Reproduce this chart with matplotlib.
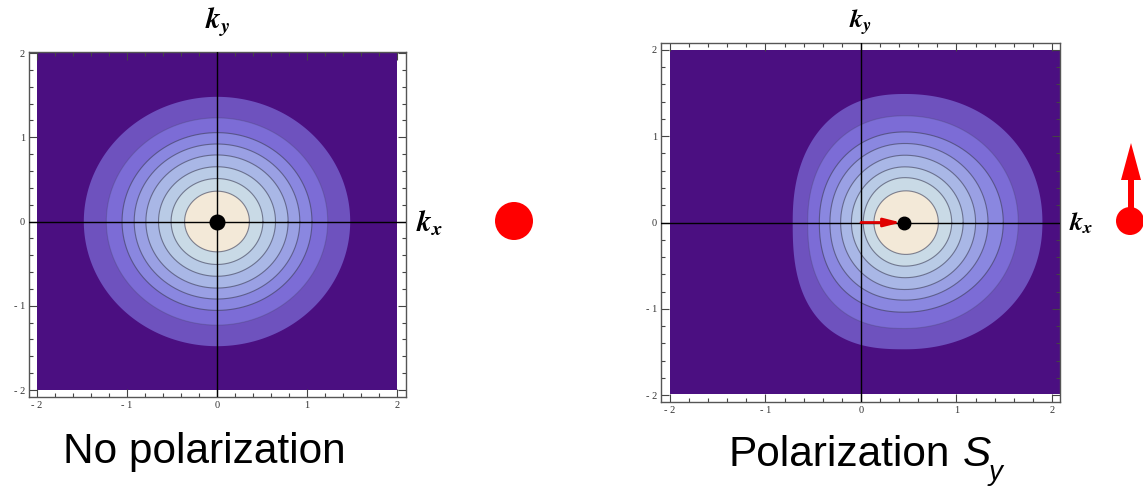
import numpy as np
import matplotlib.pyplot as plt
from matplotlib.patches import Circle, FancyArrow
from matplotlib.ticker import MultipleLocator

plt.rcParams['mathtext.fontset'] = 'custom'
plt.rcParams['mathtext.it'] = 'STIXGeneral:italic:bold'
plt.rcParams['mathtext.rm'] = 'STIXGeneral:bold'

# contour band colours, outside -> centre
band_colors = ['#4b0f81', '#6e52be', '#7c6cd6', '#8a87e0', '#9aa0e4',
               '#a9b7e6', '#b9cbe6', '#c9dae6', '#f3e9d8']

# no polarization: concentric circles (radii of the contour lines)
radii = [1.48, 1.23, 1.055, 0.92, 0.79, 0.65, 0.51, 0.36]

# S_y polarization: shifted, lopsided contours
shift_x = [0.46, 0.46, 0.46, 0.46, 0.46, 0.46, 0.46, 0.47]
left_x = [-0.715, -0.558, -0.436, -0.325, -0.213, -0.10, 0.024, 0.136]
right_x = [1.90, 1.647, 1.49, 1.33, 1.20, 1.07, 0.95, 0.81]
top_y = [1.49, 1.237, 1.05, 0.916, 0.78, 0.645, 0.52, 0.367]
bottom_y = [-1.47, -1.229, -1.04, -0.90, -0.777, -0.64, -0.506, -0.37]
upper_left_power = [2.3, 2.2, 2.1, 2.05, 2.0, 2.0, 2.0, 2.0]
lower_left_power = [2.6, 2.4, 2.25, 2.15, 2.05, 2.0, 2.0, 2.0]
right_power = [2.1, 2.05, 2.0, 2.0, 2.0, 2.0, 2.0, 2.0]

peak_left = 0.0
peak_right = 0.45

tick_vals = [-2, -1, 0, 1, 2]
tick_text = ['- 2', '- 1', '0', '1', '2']


def boundary(xc, a_l, a_r, y_t, y_b, p_ul=2.0, p_ll=2.0, p_r=2.0, n=800):
    t = np.linspace(0, 2 * np.pi, n)
    c, s = np.cos(t), np.sin(t)
    a = np.where(c < 0, a_l, a_r)
    p = np.where(c < 0, np.where(s < 0, p_ll, p_ul), p_r)
    b = np.where(s < 0, abs(y_b), y_t)
    x = xc + a * np.sign(c) * np.abs(c) ** (2 / p)
    y = b * np.sign(s) * np.abs(s) ** (2 / p)
    return x, y


def setup_frame(ax, xlim, ylim):
    ax.set_xlim(*xlim)
    ax.set_ylim(*ylim)
    ax.set_xticks(tick_vals)
    ax.set_yticks(tick_vals)
    ax.set_xticklabels(tick_text, family='Liberation Serif', fontsize=7.5, color='#333333')
    ax.set_yticklabels(tick_text, family='Liberation Serif', fontsize=7.5, color='#333333')
    ax.xaxis.set_minor_locator(MultipleLocator(0.2))
    ax.yaxis.set_minor_locator(MultipleLocator(0.2))
    ax.tick_params(which='both', direction='in', top=True, right=True,
                   color='#444444', width=0.8, pad=3)
    ax.tick_params(which='major', length=6)
    ax.tick_params(which='minor', length=3)
    for sp in ax.spines.values():
        sp.set_color('#555555')
        sp.set_linewidth(1.0)
    ax.axhline(0, color='black', lw=1.0, zorder=5)
    ax.axvline(0, color='black', lw=1.0, zorder=5)


fig = plt.figure(figsize=(11.43, 4.87), dpi=100)

# left panel
ax1 = fig.add_axes([29 / 1143, 1 - 397 / 487, 377 / 1143, 345 / 487])
ax1.fill([-2, 2, 2, -2], [-2, -2, 2, 2], color=band_colors[0], lw=0)
for i, r in enumerate(radii):
    x, y = boundary(0.0, r, r, r, -r)
    ax1.fill(x, y, color=band_colors[i + 1], lw=0)
    if i > 0:
        ax1.plot(x, y, color='#3c3c55', lw=0.8, alpha=0.25 if i == 1 else 0.6)
setup_frame(ax1, (-2.089, 2.1), (-2.083, 2.012))
ax1.plot(peak_left, 0, 'o', color='black', ms=10.5, zorder=6)

# right panel
ax2 = fig.add_axes([661 / 1143, 1 - 402 / 487, 399 / 1143, 359 / 487])
ax2.fill([-2, 2.1, 2.1, -2], [-1.99, -1.99, 2, 2], color=band_colors[0], lw=0)
for i in range(len(left_x)):
    xc = shift_x[i]
    x, y = boundary(xc, xc - left_x[i], right_x[i] - xc, top_y[i], bottom_y[i],
                    upper_left_power[i], lower_left_power[i], right_power[i])
    ax2.fill(x, y, color=band_colors[i + 1], lw=0)
    if i > 0:
        ax2.plot(x, y, color='#3c3c55', lw=0.8, alpha=0.25 if i == 1 else 0.6)
setup_frame(ax2, (-2.094, 2.084), (-2.081, 2.081))
ax2.annotate('', xy=(peak_right - 0.03, 0), xytext=(0, 0),
             arrowprops=dict(arrowstyle='-|>,head_length=1.0,head_width=0.25',
                             color='#e00000', lw=2.0, shrinkA=0, shrinkB=0),
             zorder=6)
ax2.plot(peak_right, 0, 'o', color='black', ms=9, zorder=7)

# overlay in pixel units for labels and spin symbols
ov = fig.add_axes([0, 0, 1, 1], zorder=10)
ov.set_xlim(0, 1143)
ov.set_ylim(487, 0)
ov.set_axis_off()
ov.patch.set_alpha(0)

ov.text(218, 21, r'$k_y$', fontsize=21, ha='center', va='center')
ov.text(416, 223, r'$k_x$', fontsize=21, ha='left', va='center')
ov.text(861, 23, r'$k_y$', fontsize=19, ha='center', va='center')
ov.text(1069, 223, r'$k_x$', fontsize=19, ha='left', va='center')

ov.add_patch(Circle((514, 221), 19, color='#ff0000', lw=0))
ov.add_patch(Circle((1130, 221), 14, color='#ff0000', lw=0))
ov.add_patch(FancyArrow(1131, 215, 0, -72, width=6, head_width=20, head_length=37,
                        length_includes_head=True, color='#ff0000', lw=0))

ov.text(204, 463, 'No polarization', family='Liberation Sans', fontsize=30.5,
        ha='center', va='baseline')
ov.text(728, 466, 'Polarization', family='Liberation Sans', fontsize=30.5,
        ha='left', va='baseline')
ov.text(963, 466, 'S', family='Liberation Sans', style='italic', fontsize=30.5,
        ha='left', va='baseline')
ov.text(989, 480, 'y', family='Liberation Sans', style='italic', fontsize=20,
        ha='left', va='baseline')

fig.savefig('out.png', dpi=100)
